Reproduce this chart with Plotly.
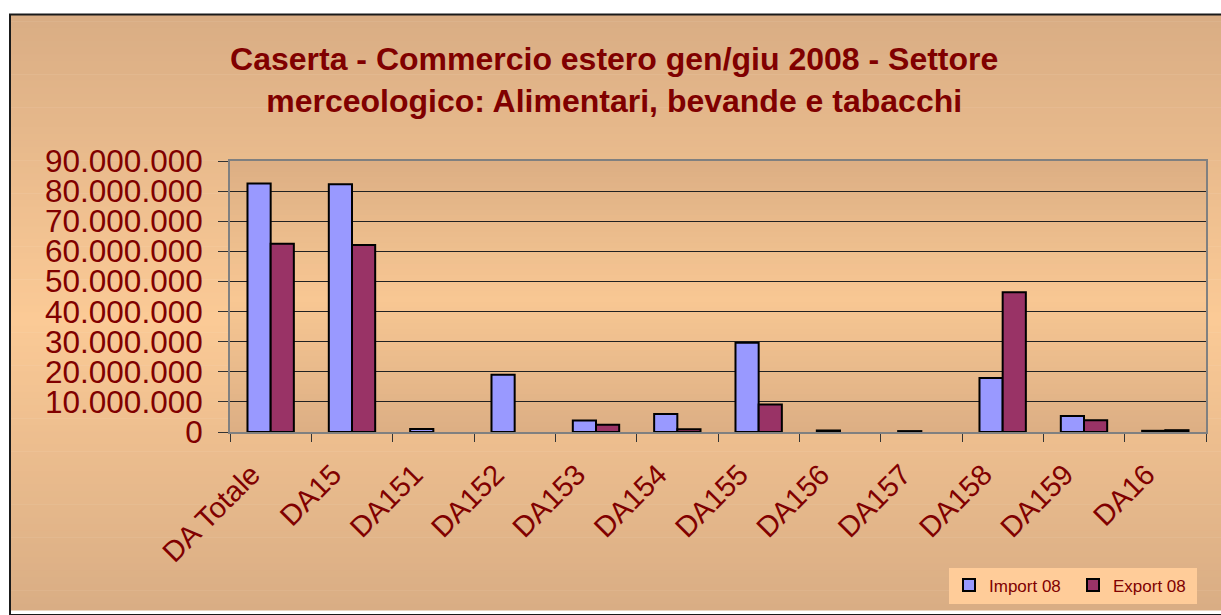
import plotly.graph_objects as go

categories = ["DA Totale", "DA15", "DA151", "DA152", "DA153", "DA154",
              "DA155", "DA156", "DA157", "DA158", "DA159", "DA16"]
import_08 = [82500000, 82300000, 1000000, 19000000, 3800000, 6000000,
             29600000, 500000, 300000, 17900000, 5300000, 400000]
export_08 = [62500000, 62100000, 0, 0, 2400000, 900000,
             9100000, 0, 0, 46400000, 3900000, 600000]
y_ticks = [0, 10000000, 20000000, 30000000, 40000000, 50000000,
           60000000, 70000000, 80000000, 90000000]

W, H = 1221, 615
L, R, T, B = 230, 15, 161, 180
PW, PH = W - L - R, H - T - B

def px_x(px):
    return (px - L) / PW

def px_y(py):
    return (H - B - py) / PH

def mix(c1, c2, t):
    return "rgb(%d,%d,%d)" % tuple(round(a + (b - a) * t) for a, b in zip(c1, c2))

dark = (217, 173, 132)
light = (251, 202, 150)

shapes = []
# outer chart-area gradient (dark top/bottom, light middle)
top, bot, mid = 13, 615, 320
n = 90
for i in range(n):
    y0 = top + (bot - top) * i / n
    y1 = top + (bot - top) * (i + 1) / n
    yc = (y0 + y1) / 2
    t = (yc - top) / (mid - top) if yc < mid else (bot - yc) / (bot - mid)
    shapes.append(dict(type="rect", xref="paper", yref="paper", layer="below",
                       x0=px_x(10), x1=px_x(W + 5), y0=px_y(y0), y1=px_y(y1 + 0.6),
                       line=dict(width=0), fillcolor=mix(dark, light, t)))
# plot-area gradient
ptop, pbot, pmid = T, H - B, 300
dark2 = (220, 175, 132)
light2 = (248, 199, 147)
n2 = 50
for i in range(n2):
    y0 = ptop + (pbot - ptop) * i / n2
    y1 = ptop + (pbot - ptop) * (i + 1) / n2
    yc = (y0 + y1) / 2
    t = (yc - ptop) / (pmid - ptop) if yc < pmid else (pbot - yc) / (pbot - pmid)
    shapes.append(dict(type="rect", xref="paper", yref="paper", layer="below",
                       x0=0, x1=1, y0=px_y(y0), y1=px_y(min(y1 + 0.6, pbot)),
                       line=dict(width=0), fillcolor=mix(dark2, light2, t)))
# chart frame
shapes.append(dict(type="rect", xref="paper", yref="paper", layer="below",
                   x0=px_x(10), x1=px_x(W + 5), y0=px_y(H + 5), y1=px_y(13),
                   line=dict(width=2, color="#1a1a1a"), fillcolor="rgba(0,0,0,0)"))

font_family = "Arial, 'Liberation Sans', sans-serif"
red = "#800000"

def outline(vals):
    return [2 if v > 0 else 0 for v in vals]

fig = go.Figure()
fig.add_trace(go.Bar(name="Import 08", x=categories, y=import_08,
                     marker=dict(color="#9999FF",
                                 line=dict(color="#000000", width=outline(import_08)))))
fig.add_trace(go.Bar(name="Export 08", x=categories, y=export_08,
                     marker=dict(color="#993366",
                                 line=dict(color="#000000", width=outline(export_08)))))

fig.update_layout(
    width=W, height=H,
    margin=dict(l=L, r=R, t=T, b=B),
    paper_bgcolor="#FFFFFF",
    plot_bgcolor="rgba(0,0,0,0)",
    separators=",.",
    barmode="group",
    bargap=0.43,
    bargroupgap=0,
    shapes=shapes,
    title=dict(
        text="Caserta - Commercio estero gen/giu 2008 - Settore<br>merceologico: Alimentari, bevande e tabacchi",
        x=0.503, xref="container", xanchor="center",
        y=1 - 70 / H, yref="container", yanchor="top",
        font=dict(family=font_family, size=32, color=red, weight="bold"),
    ),
    legend=dict(
        orientation="h",
        x=px_x(949), y=px_y(572), xanchor="left", yanchor="top",
        bgcolor="#FFCC99",
        font=dict(family=font_family, size=17, color=red),
        traceorder="normal",
        entrywidth=79,
    ),
    xaxis=dict(
        type="category",
        tickson="boundaries",
        ticks="outside", ticklen=8, tickcolor="#333333",
        tickangle=-45,
        tickfont=dict(family=font_family, size=29, color=red),
        showline=True, linecolor="#808080", linewidth=2, mirror=True,
        showgrid=False,
        ticklabelstandoff=12,
        ticklabelshift=-19,
    ),
    yaxis=dict(
        range=[0, 90000000],
        tickvals=y_ticks,
        tickformat=",d",
        ticks="outside", ticklen=10, tickcolor="#333333",
        tickfont=dict(family=font_family, size=31.5, color=red),
        showline=True, linecolor="#808080", linewidth=2, mirror=True,
        showgrid=True, gridcolor="#222222", gridwidth=1,
        zeroline=False,
        ticklabelstandoff=9,
    ),
)

fig.write_html("out.html", config={"displayModeBar": False},
               post_script="document.body.style.margin='0px';")
